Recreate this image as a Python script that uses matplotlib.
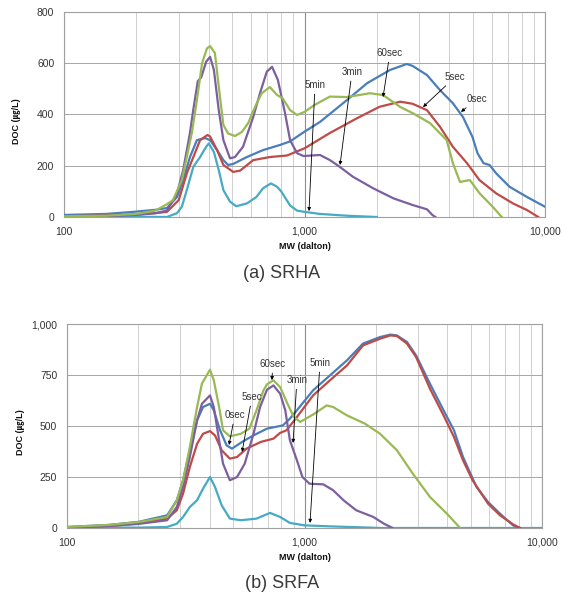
"""Recreate the SRHA / SRFA molecular-weight distribution figure."""

import matplotlib

matplotlib.use("Agg")

import matplotlib.pyplot as plt
from matplotlib.axes import Axes
from matplotlib.ticker import FixedLocator, LogLocator, NullFormatter

plt.rcParams["font.family"] = ["Liberation Sans", "Noto Sans CJK KR", "DejaVu Sans"]

# ---- data: (a) SRHA -------------------------------------------------------
srha_mw_0sec = [100, 150, 194, 240, 268, 295, 313, 334, 357, 386, 405, 433, 460, 481, 505,
                576, 672, 790, 871, 1000, 1160, 1500, 1820, 2270, 2660, 2810, 3230, 3660,
                4140, 4560, 4990, 5240, 5550, 5880, 6270, 7120, 8420, 10000]
srha_doc_0sec = [8, 12, 20, 28, 35, 78, 144, 234, 300, 308, 300, 261, 222, 203, 207,
                 234, 261, 281, 295, 333, 371, 456, 522, 574, 597, 590, 554, 495,
                 444, 390, 313, 249, 210, 203, 170, 118, 78, 40]

srha_mw_5sec = [100, 150, 200, 240, 268, 300, 324, 345, 368, 395, 405, 433, 460, 505, 540,
                612, 718, 846, 1000, 1276, 1650, 2050, 2500, 2810, 3230, 3660, 4140, 4740,
                5340, 6270, 7360, 8420, 9370]
srha_doc_5sec = [3, 6, 10, 15, 20, 66, 170, 234, 300, 320, 314, 261, 203, 176, 181,
                 222, 234, 240, 268, 328, 385, 430, 450, 442, 417, 352, 274, 210,
                 144, 92, 53, 27, 0]

srha_mw_60sec = [100, 150, 200, 240, 268, 284, 309, 324, 340, 357, 375, 393, 405, 424, 445,
                 460, 481, 514, 549, 583, 623, 664, 718, 769, 810, 871, 931, 1000, 1100,
                 1276, 1500, 1870, 2120, 2495, 2820, 3330, 3900, 4140, 4430, 4870, 5340,
                 6060, 6610]
srha_doc_60sec = [3, 5, 12, 25, 50, 66, 144, 234, 328, 456, 600, 658, 667, 640, 470,
                  359, 326, 316, 332, 366, 430, 483, 507, 476, 464, 417, 398, 410, 437,
                  470, 468, 483, 476, 430, 405, 366, 300, 210, 137, 144, 93,
                  40, 0]

srha_mw_3min = [100, 150, 200, 240, 268, 295, 313, 334, 345, 360, 372, 390, 405, 420, 440,
                460, 490, 514, 555, 612, 653, 697, 733, 775, 830, 871, 931, 990, 1160,
                1276, 1400, 1590, 1930, 2340, 2810, 3230, 3400, 3500]
srha_doc_3min = [2, 4, 8, 15, 25, 92, 183, 328, 420, 530, 545, 606, 625, 574, 417,
                 300, 229, 234, 274, 390, 483, 567, 586, 535, 405, 300, 249, 238, 242,
                 222, 196, 157, 112, 73, 47, 30, 8, 0]

srha_mw_5min = [100, 150, 200, 268, 295, 309, 324, 345, 368, 390, 400, 420, 440, 460, 490,
                520, 576, 631, 672, 725, 769, 800, 871, 931, 1000, 1160, 1500, 2000]
srha_doc_5min = [5, 3, 1, 0, 15, 40, 105, 196, 234, 274, 287, 254, 183, 105, 60,
                 42, 53, 78, 112, 131, 118, 100, 45, 25, 20, 12, 5, 0]

# ---- data: (b) SRFA -------------------------------------------------------
srfa_mw_0sec = [100, 150, 200, 264, 290, 308, 329, 353, 374, 400, 415, 441, 470, 495, 546,
                610, 695, 811, 868, 929, 1087, 1280, 1510, 1763, 2080, 2300, 2450, 2700,
                2950, 3375, 3850, 4260, 4650, 5300, 5930, 6660, 7550, 8080]
srfa_doc_0sec = [5, 15, 30, 62, 136, 234, 381, 528, 593, 609, 577, 479, 405, 389, 422,
                 454, 487, 503, 536, 577, 675, 748, 822, 904, 936, 948, 944, 912,
                 846, 707, 577, 479, 348, 201, 127, 70, 13, 0]

srfa_mw_5sec = [100, 150, 200, 264, 290, 308, 329, 353, 374, 400, 420, 448, 485, 520, 570,
                655, 740, 789, 840, 929, 1087, 1280, 1510, 1763, 2080, 2300, 2450, 2700,
                2950, 3375, 3850, 4260, 4650, 5100, 5930, 6660, 7550, 8080]
srfa_doc_5sec = [3, 10, 22, 46, 87, 168, 299, 413, 462, 475, 454, 381, 340, 348, 389,
                 422, 438, 466, 479, 544, 650, 724, 797, 895, 928, 944, 941, 904,
                 838, 683, 552, 446, 332, 234, 119, 62, 18, 0]

srfa_mw_60sec = [100, 150, 200, 264, 290, 308, 329, 353, 370, 400, 415, 437, 454, 485, 540,
                 586, 628, 672, 695, 740, 790, 840, 900, 960, 1100, 1240, 1320, 1510, 1800,
                 2080, 2450, 2860, 3375, 3980, 4520]
srfa_doc_60sec = [5, 15, 29, 54, 136, 234, 397, 593, 708, 776, 724, 593, 479, 449, 462,
                  487, 577, 675, 704, 724, 690, 620, 545, 520, 560, 601, 593, 552, 511,
                  462, 381, 266, 152, 70, 0]

srfa_mw_3min = [100, 150, 200, 264, 290, 308, 329, 353, 370, 400, 415, 437, 454, 485, 520,
                560, 610, 650, 695, 740, 790, 830, 868, 929, 980, 1050, 1200, 1320, 1460,
                1650, 1950, 2160, 2350]
srfa_doc_3min = [3, 10, 20, 38, 103, 201, 348, 528, 609, 650, 593, 430, 315, 234, 250,
                 315, 462, 593, 678, 699, 658, 577, 430, 332, 250, 217, 214, 185, 136,
                 87, 54, 21, 0]

srfa_mw_5min = [100, 150, 200, 264, 290, 308, 329, 353, 374, 400, 420, 448, 485, 540, 628,
                716, 790, 868, 1000, 1280, 1760, 2100, 10000]
srfa_doc_5min = [2, 2, 2, 5, 21, 54, 103, 136, 193, 250, 201, 111, 46, 38, 46,
                 74, 54, 25, 13, 8, 3, 0, 0]

series_names = ["0sec", "5sec", "60sec", "3min", "5min"]
series_colors = {
    "0sec": "#4a7ebb",
    "5sec": "#be4b48",
    "60sec": "#98b954",
    "3min": "#7d5fa0",
    "5min": "#46aac5",
}
draw_order = ["5min", "0sec", "5sec", "3min", "60sec"]

srha_series = {
    "0sec": (srha_mw_0sec, srha_doc_0sec),
    "5sec": (srha_mw_5sec, srha_doc_5sec),
    "60sec": (srha_mw_60sec, srha_doc_60sec),
    "3min": (srha_mw_3min, srha_doc_3min),
    "5min": (srha_mw_5min, srha_doc_5min),
}
srfa_series = {
    "0sec": (srfa_mw_0sec, srfa_doc_0sec),
    "5sec": (srfa_mw_5sec, srfa_doc_5sec),
    "60sec": (srfa_mw_60sec, srfa_doc_60sec),
    "3min": (srfa_mw_3min, srfa_doc_3min),
    "5min": (srfa_mw_5min, srfa_doc_5min),
}

# label -> (text position, arrow tip) in data units
srha_notes = {
    "60sec": ((2267, 640), (2121, 468)),
    "5sec": ((4227, 546), (3110, 429)),
    "0sec": ((5210, 460), (4475, 410)),
    "3min": ((1576, 566), (1405, 203)),
    "5min": ((1106, 515), (1044, 23)),
}
srfa_notes = {
    "60sec": ((736, 804), (729, 725)),
    "5sec": ((601, 642), (546, 373)),
    "0sec": ((509, 554), (481, 407)),
    "3min": ((929, 725), (895, 417)),
    "5min": ((1162, 809), (1055, 25)),
}

srha_yticks = [0, 200, 400, 600, 800]
srfa_yticks = [0, 250, 500, 750, 1000]
x_ticks = [100, 1000, 10000]
x_ticklabels = ["100", "1,000", "10,000"]


def draw_panel(ax: Axes, series: dict, notes: dict, yticks: list[int], caption: str,
               caption_y: float) -> None:
    """Draw one MW distribution panel with its annotations."""
    for name in draw_order:
        mw, doc = series[name]
        ax.plot(mw, doc, color=series_colors[name], linewidth=1.6, zorder=3)

    ax.set_xscale("log")
    ax.set_xlim(100, 10000)
    ax.set_ylim(yticks[0], yticks[-1])
    ax.xaxis.set_major_locator(FixedLocator(x_ticks))
    ax.set_xticklabels(x_ticklabels)
    ax.xaxis.set_minor_locator(LogLocator(base=10, subs=range(2, 10)))
    ax.xaxis.set_minor_formatter(NullFormatter())
    ax.set_yticks(yticks)
    ax.set_yticklabels([f"{v:,}" for v in yticks])
    ax.tick_params(which="both", length=0, labelsize=7.5, colors="#333333")
    ax.tick_params(axis="x", pad=7)
    ax.tick_params(axis="y", pad=7)

    ax.grid(True, which="major", axis="y", color="#a6a6a6", linewidth=0.7)
    ax.grid(True, which="major", axis="x", color="#8c8c8c", linewidth=0.8)
    ax.grid(True, which="minor", axis="x", color="#d0d0d0", linewidth=0.7)
    ax.set_axisbelow(True)
    for spine in ax.spines.values():
        spine.set_color("#a0a0a0")
        spine.set_linewidth(0.8)

    for name, (text_xy, tip_xy) in notes.items():
        ax.annotate(
            name,
            xy=tip_xy,
            xytext=text_xy,
            ha="center",
            va="center",
            fontsize=7,
            color="#333333",
            zorder=5,
            arrowprops=dict(arrowstyle="-|>", color="black", lw=0.6,
                            mutation_scale=5, shrinkA=1, shrinkB=0),
        )

    ax.text(0.5, -0.145, "MW (dalton)", transform=ax.transAxes, ha="center", va="center",
            fontsize=6.5, fontweight="bold", color="#111111")
    ax.text(-0.098, 0.47, "DOC (㎍/L)", transform=ax.transAxes, ha="center", va="center",
            rotation=90, fontsize=6.5, fontweight="bold", color="#111111",
            family=["Liberation Sans", "Noto Sans CJK KR", "DejaVu Sans"])
    ax.figure.text(0.5, caption_y, caption, ha="center", va="center", fontsize=13,
                   color="#3a3a3a")


fig = plt.figure(figsize=(5.64, 5.96), dpi=100)
ax_a = fig.add_axes([64 / 564, 1 - 217 / 596, 481 / 564, 205 / 596])
ax_b = fig.add_axes([67 / 564, 1 - 528 / 596, 475 / 564, 204 / 596])

draw_panel(ax_a, srha_series, srha_notes, srha_yticks, "(a) SRHA", 1 - 273 / 596)
draw_panel(ax_b, srfa_series, srfa_notes, srfa_yticks, "(b) SRFA", 1 - 583 / 596)

fig.savefig("out.png", dpi=100, facecolor="white")
